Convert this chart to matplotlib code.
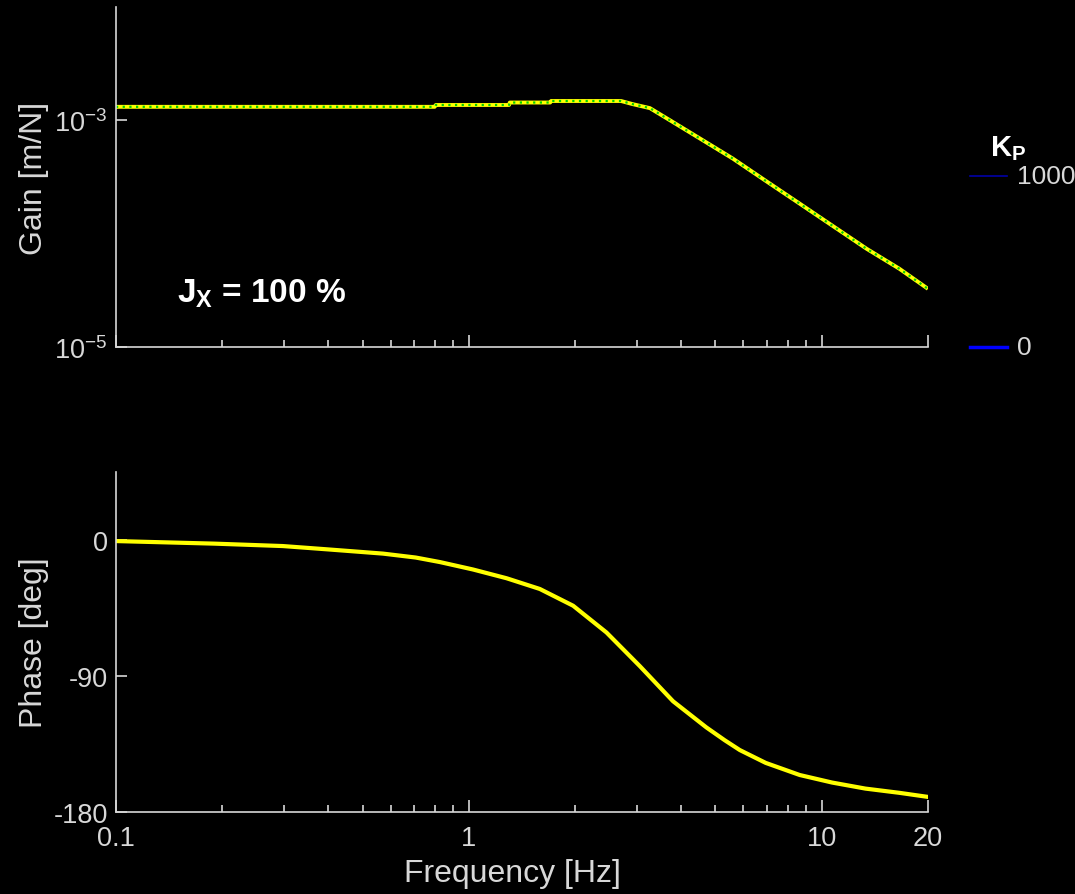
import numpy as np
import matplotlib
matplotlib.use('Agg')
from matplotlib import pyplot as plt
from matplotlib.lines import Line2D
from matplotlib.ticker import LogLocator, FixedLocator, FixedFormatter, NullFormatter

plt.rcParams['font.family'] = ['Liberation Sans', 'DejaVu Sans']
plt.rcParams['axes.unicode_minus'] = False
plt.rcParams['mathtext.fontset'] = 'custom'
plt.rcParams['mathtext.rm'] = 'Liberation Sans'
plt.rcParams['mathtext.bf'] = 'Liberation Sans:bold'
plt.rcParams['mathtext.it'] = 'Liberation Sans:italic'

# Daten
gain_freq = [0.1, 0.2, 0.4, 0.8, 0.806, 1.3, 1.306, 1.7, 1.71, 2.7, 2.91, 3.26, 3.64, 4.51,
             5.59, 6.99, 8.66, 10.7, 13.4, 16.6, 20.0]
gain_val = [1.315e-3, 1.315e-3, 1.315e-3, 1.315e-3, 1.365e-3, 1.365e-3, 1.435e-3, 1.435e-3,
            1.48e-3, 1.48e-3, 1.39e-3, 1.28e-3, 1.04e-3, 6.93e-4, 4.61e-4, 2.88e-4, 1.84e-4,
            1.18e-4, 7.36e-5, 4.9e-5, 3.26e-5]

phase_freq = [0.1, 0.19, 0.297, 0.398, 0.571, 0.707, 0.828, 1.027, 1.279, 1.589, 1.975,
              2.455, 3.05, 3.79, 4.71, 5.31, 5.86, 6.94, 8.66, 10.7, 13.3, 16.6, 20.0]
phase_val = [-0.7, -2.4, -4.0, -6.2, -9.0, -11.6, -14.6, -19.5, -25.3, -32.4, -43.5,
             -61.2, -83.4, -106.7, -124.0, -132.5, -139.0, -147.5, -155.5, -160.5,
             -164.5, -167.3, -170.0]

kp_labels = ['1000', '0']
kp_colors = ['#0000a8', '#0000ff']
kp_widths = [1.2, 2.5]

fg = '#d8d8d8'

fig = plt.figure(figsize=(10.75, 8.95), dpi=100, facecolor='black')
ax1 = fig.add_axes([0.1079, 0.6112, 0.7553, 0.3799])
ax2 = fig.add_axes([0.1079, 0.0916, 0.7553, 0.3799])

for ax in (ax1, ax2):
    ax.set_facecolor('black')
    ax.set_xscale('log')
    ax.set_xlim(0.1, 20)
    for s in ('top', 'right'):
        ax.spines[s].set_visible(False)
    for s in ('left', 'bottom'):
        ax.spines[s].set_color(fg)
        ax.spines[s].set_linewidth(1.2)
    ax.xaxis.set_major_locator(FixedLocator([0.1, 1, 10, 20]))
    ax.xaxis.set_minor_locator(LogLocator(base=10, subs=np.arange(2, 10), numticks=20))
    ax.tick_params(which='both', direction='in', colors=fg, labelsize=19.5, width=1.2)
    ax.tick_params(which='major', length=9)
    ax.tick_params(which='minor', length=5)
    ax.tick_params(axis='y', which='major', length=8, pad=6)
    ax.tick_params(axis='x', which='major', pad=9)

# Amplitudengang
ax1.plot(gain_freq, gain_val, color='yellow', lw=2.8, solid_capstyle='butt')
ax1.plot(gain_freq, gain_val, color='#00d000', lw=1.6, ls=(0, (1, 2)))
ax1.set_yscale('log')
ax1.set_ylim(1e-5, 1e-2)
ax1.yaxis.set_major_locator(FixedLocator([1e-5, 1e-3]))
ax1.yaxis.set_minor_locator(FixedLocator([]))
ax1.xaxis.set_major_formatter(NullFormatter())
ax1.xaxis.set_minor_formatter(NullFormatter())
ax1.set_ylabel('Gain [m/N]', color=fg, fontsize=23)
ax1.yaxis.set_label_coords(-0.083, 0.5)
ax1.text(0.075, 0.16, r'$\mathbf{J_X}$ = 100 %', transform=ax1.transAxes, color='white',
         fontsize=24, fontweight='bold', va='center')

# Phasengang
ax2.plot(phase_freq, phase_val, color='yellow', lw=3.0)
ax2.set_ylim(-180, 45)
ax2.yaxis.set_major_locator(FixedLocator([-180, -90, 0]))
ax2.xaxis.set_major_formatter(FixedFormatter(['0.1', '1', '10', '20']))
ax2.xaxis.set_minor_formatter(NullFormatter())
ax2.set_ylabel('Phase [deg]', color=fg, fontsize=23)
ax2.yaxis.set_label_coords(-0.083, 0.5)
ax2.set_xlabel('Frequency [Hz]', color=fg, fontsize=23)
ax2.xaxis.set_label_coords(0.488, -0.135)

# Legende K_P
fig.text(0.921, 0.834, r'$\mathbf{K_P}$', color='white', fontsize=21, va='center')
leg_y = [0.802, 0.611]
for lab, col, w, y in zip(kp_labels, kp_colors, kp_widths, leg_y):
    fig.add_artist(Line2D([0.902, 0.937], [y, y], color=col, lw=w, transform=fig.transFigure))
    fig.text(0.946, y, lab, color=fg, fontsize=19, va='center')

fig.savefig('out.png', dpi=100, facecolor='black')
